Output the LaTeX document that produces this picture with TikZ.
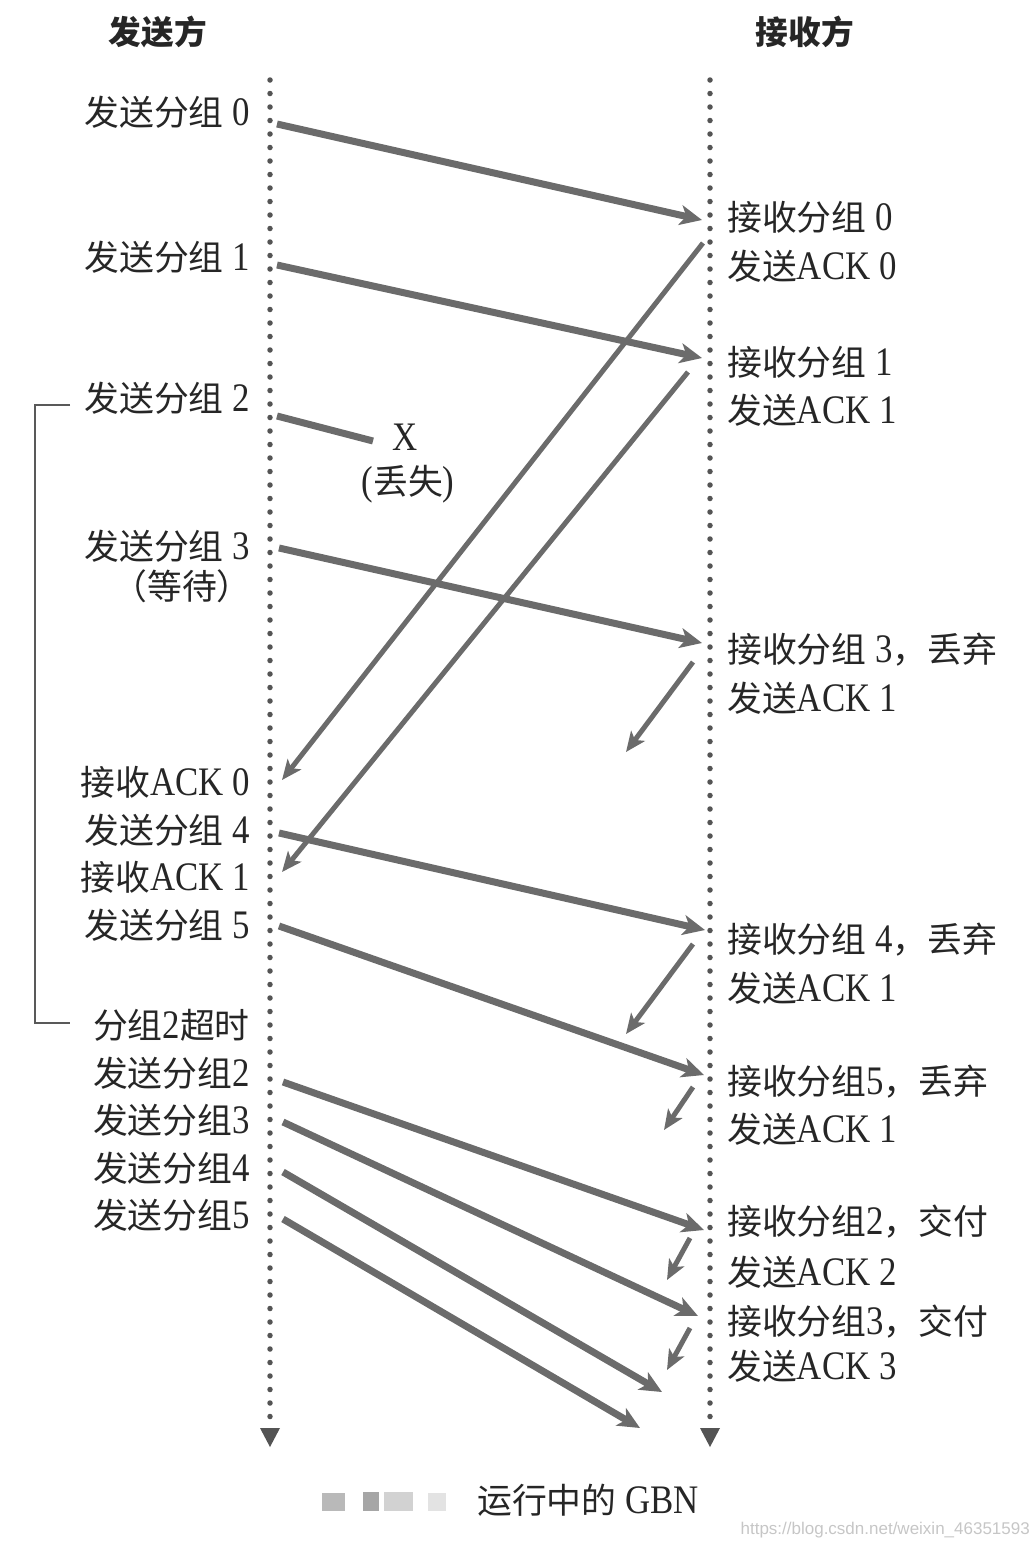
\documentclass[tikz,border=0pt]{standalone}
\usepackage{fontspec}
\setmainfont{Liberation Serif}[FakeStretch=0.86]
\newfontfamily\cjk{Noto Sans CJK SC}[Scale=0.86]
\newfontfamily\wmfont{Liberation Sans}
\usetikzlibrary{arrows.meta}
\definecolor{txt}{gray}{0.15}
\definecolor{arr}{gray}{0.42}
\definecolor{dotc}{gray}{0.33}
\tikzset{
  lbl/.style={font=\fontsize{40.5}{44}\selectfont, text=txt, inner sep=0pt},
  lleft/.style={lbl, anchor=east},
  lright/.style={lbl, anchor=west},
  head/.style={lbl, font=\fontsize{38}{40}\selectfont\cjk\bfseries},
  timeline/.style={dotc, line width=5.5pt, line cap=round, dash pattern=on 0pt off 13.5pt},
  tltip/.style={fill=dotc, draw=none},
  pkt/.style={arr, line width=7pt, -{Stealth[length=22pt,width=20pt,inset=6pt]}},
  ack/.style={arr, line width=5pt, -{Stealth[length=20pt,width=17pt,inset=5pt]}},
  lost/.style={arr, line width=7pt},
  brk/.style={gray!70!black, line width=1.5pt},
}
\begin{document}
\begin{tikzpicture}[x=1pt,y=-1pt]
\useasboundingbox (0,0) rectangle (1034,1548);

% headers
\node[head] (hs) at (158,32) {发送方};
\node[head] (hr) at (805,32) {接收方};

% timelines
\coordinate (lt) at (270,80);
\coordinate (lb) at (270,1428);
\coordinate (rt) at (710,80);
\coordinate (rb) at (710,1428);
\draw[timeline] (lt) -- (lb);
\draw[timeline] (rt) -- (rb);
\fill[tltip] (260,1428) -- (280,1428) -- (270,1447) -- cycle;
\fill[tltip] (700,1428) -- (720,1428) -- (710,1447) -- cycle;

% sender labels
\node[lleft] (s0) at (250,112) {{\cjk 发送分组}~0};
\node[lleft] (s1) at (250,257) {{\cjk 发送分组}~1};
\node[lleft] (s2) at (250,398) {{\cjk 发送分组}~2};
\node[lleft] (s3) at (250,546) {{\cjk 发送分组}~3};
\node[lleft] (s3w) at (252,586) {{\cjk （等待）}};
\node[lleft] (ra0) at (250,782) {{\cjk 接收}ACK~0};
\node[lleft] (s4) at (250,830) {{\cjk 发送分组}~4};
\node[lleft] (ra1) at (250,877) {{\cjk 接收}ACK~1};
\node[lleft] (s5) at (250,925) {{\cjk 发送分组}~5};
\node[lleft] (to) at (250,1025) {{\cjk 分组}2{\cjk 超时}};
\node[lleft] (t2) at (250,1073) {{\cjk 发送分组}2};
\node[lleft] (t3) at (250,1120) {{\cjk 发送分组}3};
\node[lleft] (t4) at (250,1168) {{\cjk 发送分组}4};
\node[lleft] (t5) at (250,1215) {{\cjk 发送分组}5};

% receiver labels
\node[lright] (r0) at (727,217) {{\cjk 接收分组}~0};
\node[lright] (r0a) at (727,266) {{\cjk 发送}ACK~0};
\node[lright] (r1) at (727,362) {{\cjk 接收分组}~1};
\node[lright] (r1a) at (727,410) {{\cjk 发送}ACK~1};
\node[lright] (r3) at (727,650) {{\cjk 接收分组}~3{\cjk ，丢弃}};
\node[lright] (r3a) at (727,698) {{\cjk 发送}ACK~1};
\node[lright] (r4) at (727,940) {{\cjk 接收分组}~4{\cjk ，丢弃}};
\node[lright] (r4a) at (727,988) {{\cjk 发送}ACK~1};
\node[lright] (r5) at (727,1082) {{\cjk 接收分组}5{\cjk ，丢弃}};
\node[lright] (r5a) at (727,1129) {{\cjk 发送}ACK~1};
\node[lright] (q2) at (727,1222) {{\cjk 接收分组}2{\cjk ，交付}};
\node[lright] (q2a) at (727,1272) {{\cjk 发送}ACK~2};
\node[lright] (q3) at (727,1322) {{\cjk 接收分组}3{\cjk ，交付}};
\node[lright] (q3a) at (727,1366) {{\cjk 发送}ACK~3};

% lost marker
\node[lbl] (x) at (405,437) {X};
\node[lbl] (lostl) at (408,484) {({\cjk 丢失})};

% endpoints
\coordinate (p0s) at (277,124);  \coordinate (p0e) at (702,220);
\coordinate (p1s) at (277,265);  \coordinate (p1e) at (702,358);
\coordinate (p2s) at (277,416);  \coordinate (p2e) at (373,441);
\coordinate (p3s) at (279,548);  \coordinate (p3e) at (702,643);
\coordinate (a0s) at (703,243);  \coordinate (a0e) at (282,780);
\coordinate (a1s) at (688,372);  \coordinate (a1e) at (282,872);
\coordinate (a3s) at (693,662);  \coordinate (a3e) at (626,752);
\coordinate (p4s) at (279,833);  \coordinate (p4e) at (705,930);
\coordinate (a4s) at (693,944);  \coordinate (a4e) at (626,1034);
\coordinate (p5s) at (279,926);  \coordinate (p5e) at (704,1075);
\coordinate (a5s) at (693,1087); \coordinate (a5e) at (664,1130);
\coordinate (u2s) at (283,1082); \coordinate (u2e) at (704,1230);
\coordinate (b2s) at (690,1238); \coordinate (b2e) at (667,1280);
\coordinate (u3s) at (283,1122); \coordinate (u3e) at (698,1316);
\coordinate (b3s) at (690,1328); \coordinate (b3e) at (667,1370);
\coordinate (u4s) at (283,1172); \coordinate (u4e) at (662,1392);
\coordinate (u5s) at (283,1219); \coordinate (u5e) at (640,1428);

% packets
\draw[pkt] (p0s) -- (p0e);
\draw[pkt] (p1s) -- (p1e);
\draw[lost] (p2s) -- (p2e);
\draw[pkt] (p3s) -- (p3e);
\draw[pkt] (p4s) -- (p4e);
\draw[pkt] (p5s) -- (p5e);
\draw[pkt] (u2s) -- (u2e);
\draw[pkt] (u3s) -- (u3e);
\draw[pkt] (u4s) -- (u4e);
\draw[pkt] (u5s) -- (u5e);
% acks
\draw[ack] (a0s) -- (a0e);
\draw[ack] (a1s) -- (a1e);
\draw[ack] (a3s) -- (a3e);
\draw[ack] (a4s) -- (a4e);
\draw[ack] (a5s) -- (a5e);
\draw[ack] (b2s) -- (b2e);
\draw[ack] (b3s) -- (b3e);

% timeout bracket
\coordinate (bt) at (70,405);
\coordinate (bb) at (70,1023);
\draw[brk] (bt) -- (35,405) -- (35,1023) -- (bb);

% caption
\fill[gray!55] (322,1493) rectangle (345,1511);
\fill[gray!70] (363,1492) rectangle (379,1511);
\fill[gray!35] (384,1492) rectangle (413,1511);
\fill[gray!22] (428,1493) rectangle (446,1511);
\node[lbl, anchor=west] (cap) at (477,1500) {{\cjk 运行中的}~GBN};
\node[anchor=east, inner sep=0pt, text=gray!45, font=\fontsize{17}{18}\selectfont\wmfont] (wm) at (1030,1530) {https://blog.csdn.net/weixin\_46351593};
\end{tikzpicture}
\end{document}
